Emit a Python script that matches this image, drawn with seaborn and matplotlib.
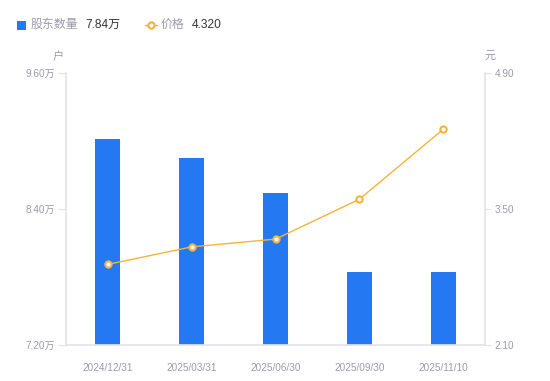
import matplotlib
matplotlib.use("Agg")
import matplotlib.pyplot as plt
import seaborn as sns
import pandas as pd
from matplotlib.patches import Rectangle
from matplotlib.lines import Line2D

# data
dates = ["2024/12/31", "2025/03/31", "2025/06/30", "2025/09/30", "2025/11/10"]
holders = [9.02, 8.85, 8.54, 7.84, 7.84]   # 万户
price = [2.93, 3.11, 3.19, 3.60, 4.32]     # 元
left_ticks = [7.20, 8.40, 9.60]
right_ticks = [2.10, 3.50, 4.90]

sns.set_theme(style="white")
FAM = ["Liberation Sans", "Noto Sans CJK SC", "DejaVu Sans"]
plt.rcParams["font.family"] = FAM

BLUE = "#2478F2"
ORANGE = "#F7B23B"
GREY = "#9B9BAA"
AXC = "#E3E3E8"
DARK = "#333333"

df = pd.DataFrame({"date": dates, "holders": holders, "price": price})

fig = plt.figure(figsize=(5.5, 3.81), dpi=100)
ax = fig.add_axes([66/550, 36/381, (485-66)/550, (345-73)/381])
sns.barplot(data=df, x="date", y="holders", ax=ax, color=BLUE, saturation=1,
            width=0.3, edgecolor="none")
ax.set_ylim(left_ticks[0], left_ticks[-1])
ax.set_yticks(left_ticks)
ax.set_yticklabels([f"{v:.2f}万" for v in left_ticks])
ax.set_xlim(-0.5, len(dates) - 0.5)
ax.set_xlabel("")
ax.set_ylabel("")

ax2 = ax.twinx()
sns.pointplot(data=df, x="date", y="price", ax=ax2, color=ORANGE,
              markers="o", linestyles="-", markersize=4.5, linewidth=1.0,
              markerfacecolor="white", markeredgecolor=ORANGE,
              markeredgewidth=1.5)
ax2.set_ylim(right_ticks[0], right_ticks[-1])
ax2.set_yticks(right_ticks)
ax2.set_yticklabels([f"{v:.2f}" for v in right_ticks])
ax2.set_xlim(-0.5, len(dates) - 0.5)
ax2.set_xlabel("")
ax2.set_ylabel("")

for a in (ax, ax2):
    for s in a.spines.values():
        s.set_visible(False)
    a.grid(False)
ax.spines["left"].set_visible(True)
ax.spines["left"].set_color(AXC)
ax.spines["bottom"].set_visible(True)
ax.spines["bottom"].set_color(AXC)
ax2.spines["right"].set_visible(True)
ax2.spines["right"].set_color(AXC)

ax.tick_params(axis="y", left=True, length=6, width=0.8, color=AXC,
               labelsize=7.2, labelcolor=GREY, pad=2)
ax.tick_params(axis="x", bottom=False, labelsize=7.2, labelcolor=GREY, pad=7)
ax2.tick_params(axis="y", right=True, length=4, width=0.8, color=AXC,
                labelsize=7.2, labelcolor=GREY, pad=3)

# unit labels
fig.text(58/550, 1 - 57/381, "户", fontsize=8, color=GREY, ha="center",
         va="center", family=FAM)
fig.text(490/550, 1 - 56/381, "元", fontsize=8, color=GREY, ha="center",
         va="center", family=FAM)

# legend
ly = 1 - 25/381
fig.patches.append(Rectangle((17/550, 1 - 29.5/381), 8.5/550, 8.5/381,
                             transform=fig.transFigure, facecolor=BLUE,
                             edgecolor="none"))
fig.text(31/550, ly, "股东数量", fontsize=8.6, color=GREY, va="center",
         family=FAM)
fig.text(85/550, ly, f"{holders[-1]:.2f}万", fontsize=8.6, color=DARK,
         va="center", family=FAM)
fig.lines.append(Line2D([145/550, 157/550], [ly, ly], transform=fig.transFigure,
                        color=ORANGE, lw=1.0))
fig.lines.append(Line2D([151/550], [ly], transform=fig.transFigure,
                        color=ORANGE, marker="o", markersize=4.5,
                        markerfacecolor="white", markeredgecolor=ORANGE,
                        markeredgewidth=1.5, lw=0))
fig.text(161/550, ly, "价格", fontsize=8.6, color=GREY, va="center",
         family=FAM)
fig.text(192/550, ly, f"{price[-1]:.3f}", fontsize=8.6, color=DARK,
         va="center", family=FAM)

fig.savefig("out.png", dpi=100)
